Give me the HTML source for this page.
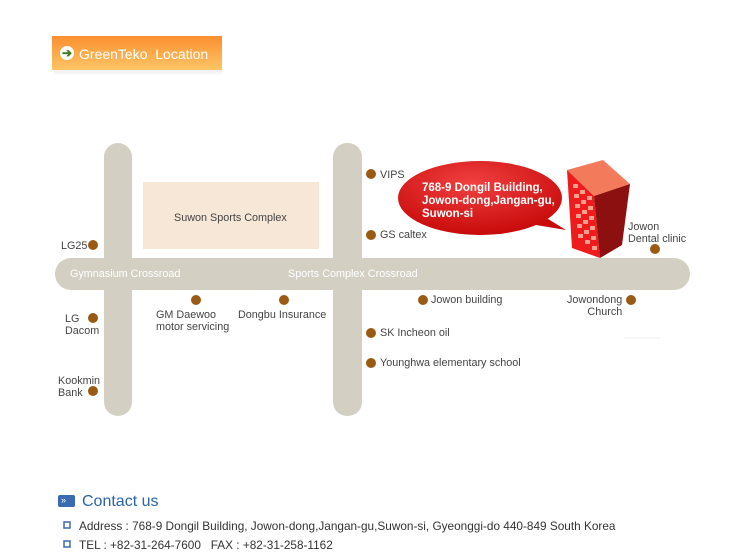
<!DOCTYPE html><html><head><style>
body{margin:0;width:744px;height:555px;background:#fff;position:relative;overflow:hidden;font-family:"Liberation Sans",Arial,sans-serif}
.t{position:absolute;font-size:10.8px;color:#444;line-height:12px;white-space:nowrap}
</style></head><body>
<div style="position:absolute;left:52px;top:36px;width:170px;height:34px;background:linear-gradient(#fb8f30,#fdc565);"></div>
<div style="position:absolute;left:54px;top:70px;width:168px;height:6px;background:linear-gradient(#eee,#fff)"></div>
<div style="position:absolute;left:60px;top:46px;width:14px;height:14px;border-radius:50%;background:#fff;color:#3a7a1a;font-size:12px;line-height:14px;text-align:center;font-weight:bold">➔</div>
<div class="t" style="left:79px;top:46px;font-size:14px;line-height:16px;color:#fff">GreenTeko&nbsp; Location</div>
<svg width="744" height="555" style="position:absolute;left:0;top:0">
<defs><radialGradient id="g" cx="0.45" cy="0.3" r="0.7"><stop offset="0" stop-color="#f04040"/><stop offset="1" stop-color="#c80a0a"/></radialGradient></defs>
<rect x="104" y="143" width="28" height="273" rx="14" fill="#d3d0c3"/>
<rect x="333" y="143" width="29" height="273" rx="14" fill="#d3d0c3"/>
<rect x="55" y="258" width="635" height="32" rx="16" fill="#d3d0c3"/>
<rect x="143" y="182" width="176" height="67" fill="#f6e7d7"/>
<path d="M540,214 L566,230 L530,224 Z" fill="#c80a0a"/>
<ellipse cx="480" cy="198" rx="82" ry="37" fill="url(#g)"/>
<polygon points="567,170 603,160 630,184 594,196" fill="#f47a5c"/>
<polygon points="567,170 594,196 600,258 572,248" fill="#ee1c1c"/>
<polygon points="594,196 630,184 622,245 600,258" fill="#8c1010"/>
<g fill="#f8a090">
<rect x="573" y="184" width="5" height="4"/><rect x="580" y="190" width="5" height="4"/><rect x="587" y="196" width="5" height="4"/>
<rect x="574" y="194" width="5" height="4"/><rect x="581" y="200" width="5" height="4"/><rect x="588" y="206" width="5" height="4"/>
<rect x="575" y="204" width="5" height="4"/><rect x="582" y="210" width="5" height="4"/><rect x="589" y="216" width="5" height="4"/>
<rect x="576" y="214" width="5" height="4"/><rect x="583" y="220" width="5" height="4"/><rect x="590" y="226" width="5" height="4"/>
<rect x="577" y="224" width="5" height="4"/><rect x="584" y="230" width="5" height="4"/><rect x="591" y="236" width="5" height="4"/>
<rect x="578" y="234" width="5" height="4"/><rect x="585" y="240" width="5" height="4"/><rect x="592" y="246" width="5" height="4"/>
</g>
<g fill="#9a5a14">
<circle cx="93" cy="245" r="5"/><circle cx="93" cy="318" r="5"/><circle cx="93" cy="391" r="5"/>
<circle cx="196" cy="300" r="5"/><circle cx="284" cy="300" r="5"/>
<circle cx="371" cy="174" r="5"/><circle cx="371" cy="235" r="5"/><circle cx="371" cy="333" r="5"/><circle cx="371" cy="363" r="5"/>
<circle cx="423" cy="300" r="5"/><circle cx="631" cy="300" r="5"/><circle cx="655" cy="249" r="5"/>
</g>
<line x1="624" y1="338" x2="660" y2="338" stroke="#eee"/>
<rect x="58" y="495" width="17" height="12" rx="2" fill="#3a6ab0"/>
<rect x="64" y="522" width="6" height="6" fill="#fff" stroke="#3a6ab0" stroke-width="1.5"/>
<rect x="64" y="541" width="6" height="6" fill="#fff" stroke="#3a6ab0" stroke-width="1.5"/>
</svg>
<div class="t" style="left:61px;top:494px;color:#fff;font-size:9px">»</div>
<div class="t" style="left:422px;top:182px;color:#fff;font-weight:bold;font-size:11.5px;line-height:13px">768-9 Dongil Building,<br>Jowon-dong,Jangan-gu,<br>Suwon-si</div>
<div class="t" style="left:174px;top:212px">Suwon Sports Complex</div>
<div class="t" style="left:70px;top:268px;color:#fff">Gymnasium Crossroad</div>
<div class="t" style="left:288px;top:268px;color:#fff">Sports Complex Crossroad</div>
<div class="t" style="left:61px;top:240px">LG25</div>
<div class="t" style="left:65px;top:313px">LG<br>Dacom</div>
<div class="t" style="left:58px;top:375px">Kookmin<br>Bank</div>
<div class="t" style="left:156px;top:309px">GM Daewoo<br>motor servicing</div>
<div class="t" style="left:238px;top:309px">Dongbu Insurance</div>
<div class="t" style="left:380px;top:169px">VIPS</div>
<div class="t" style="left:380px;top:229px">GS caltex</div>
<div class="t" style="left:380px;top:327px">SK Incheon oil</div>
<div class="t" style="left:380px;top:357px">Younghwa elementary school</div>
<div class="t" style="left:431px;top:294px">Jowon building</div>
<div class="t" style="left:567px;top:294px;text-align:right">Jowondong<br>&nbsp;&nbsp;&nbsp;&nbsp;&nbsp;&nbsp;Church</div>
<div class="t" style="left:628px;top:221px">Jowon<br>Dental clinic</div>
<div class="t" style="left:82px;top:493px;font-size:16px;line-height:18px;color:#2a64a8">Contact us</div>
<div class="t" style="left:79px;top:520px;font-size:11.8px;color:#333">Address : 768-9 Dongil Building, Jowon-dong,Jangan-gu,Suwon-si, Gyeonggi-do 440-849 South Korea</div>
<div class="t" style="left:79px;top:539px;font-size:11.8px;color:#333">TEL : +82-31-264-7600 &nbsp;&nbsp;FAX : +82-31-258-1162</div>
</body></html>
